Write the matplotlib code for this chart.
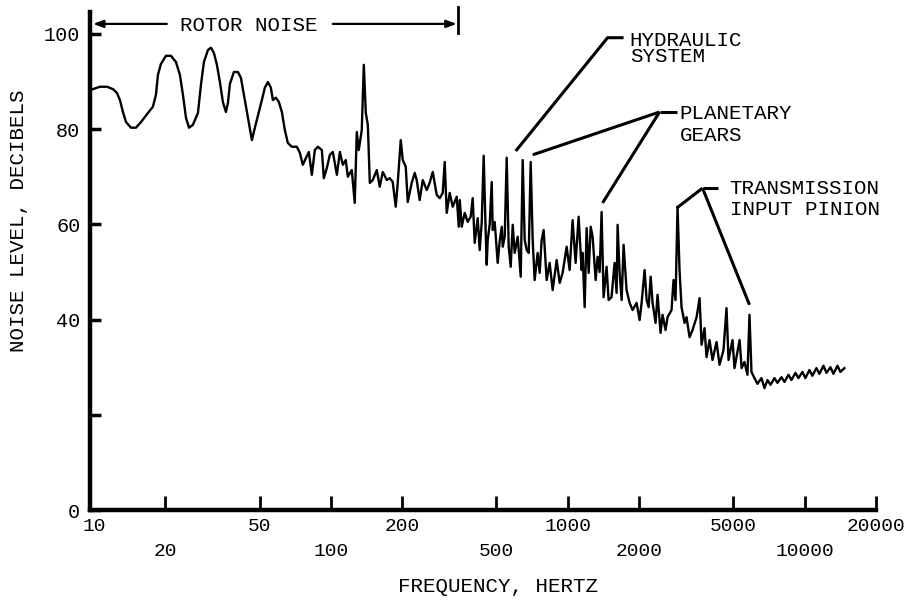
import matplotlib
matplotlib.use("Agg")
import matplotlib.pyplot as plt

# ---------------- data ----------------
freq_hz = [
    9.90, 10.60, 11.36, 12.02, 12.50, 12.87, 13.25, 13.65, 14.32, 15.04,
    15.80, 16.90, 17.73, 18.26, 18.62, 19.17, 20.13, 21.13, 22.18, 23.05,
    23.74, 24.45, 25.18, 26.15, 27.47, 28.28, 29.11, 30.26, 31.17, 32.08,
    33.03, 34.0, 35.0, 36.05, 36.76, 37.48, 38.96, 40.5, 41.7, 42.93,
    44.64, 46.4, 47.77, 49.67, 51.12, 52.64, 54.2, 55.8, 56.9, 58.58,
    60.3, 62.1, 63.93, 65.8, 68.4, 71.8, 74.0, 76.1, 78.4, 80.7,
    83.1, 85.55, 88.1, 91.6, 93.36, 96.1, 99.0, 101.9, 106.0, 109.1,
    112.3, 115.6, 117.9, 122.5, 126.1, 128.6, 131.1, 135.0, 137.7, 140.4,
    143.2, 146.0, 150.2, 156.2, 160.8, 165.6, 172.2, 177.1, 182.4, 187.8,
    191.5, 197.2, 201.1, 207.0, 211.1, 219.4, 225.9, 230.3, 237.0, 244.2,
    253.9, 261.2, 269.1, 279.7, 288.0, 296.5, 302.3, 308.3, 317.4, 326.8,
    339.8, 346.5, 350.0, 356.7, 367.2, 378.0, 389.2, 396.8, 404.6, 416.6,
    424.8, 433.1, 441.6, 450.3, 454.7, 459.2, 468.2, 477.4, 482.1, 491.4,
    501.1, 506.0, 516.0, 526.2, 531.4, 541.6, 552.2, 563.1, 574.2, 585.5,
    596.8, 614.6, 632.9, 645.1, 657.9, 670.9, 684.2, 697.2, 710.9, 724.6,
    746.1, 760.9, 775.6, 790.8, 814.3, 838.4, 863.2, 897.6, 924.2, 951.0,
    988.9, 1018, 1048, 1079, 1111, 1144, 1155, 1178, 1201, 1225,
    1249, 1273, 1311, 1337, 1363, 1389, 1416, 1458, 1487, 1530,
    1576, 1607, 1623, 1655, 1688, 1720, 1771, 1824, 1877, 1952,
    2010, 2049, 2110, 2152, 2194, 2238, 2280, 2347, 2393, 2464,
    2512, 2586, 2637, 2741, 2795, 2850, 2906, 2963, 3021, 3111,
    3172, 3266, 3362, 3497, 3600, 3671, 3777, 3852, 3966, 4082,
    4245, 4370, 4543, 4677, 4770, 4958, 5055, 5312, 5417, 5570,
    5734, 5847, 5962, 6138, 6318, 6569, 6765, 6966, 7173, 7454,
    7676, 7980, 8215, 8541, 8792, 9141, 9410, 9782, 10070, 10470,
    10780, 11210, 11540, 12000, 12360, 12850, 13220, 13750, 14150, 14710,
]
level_db = [
    88.4, 88.9, 88.9, 88.4, 87.6, 86.1, 83.6, 81.5, 80.3, 80.3,
    81.5, 83.4, 84.7, 87.2, 91.4, 93.7, 95.4, 95.4, 94.1, 91.4,
    87.2, 82.4, 80.3, 80.9, 83.4, 89.3, 94.1, 96.6, 97.1, 96.0,
    93.5, 89.9, 85.7, 83.6, 85.5, 89.5, 92.0, 92.0, 90.8, 87.2,
    82.4, 77.7, 80.3, 83.6, 86.1, 88.7, 89.9, 88.7, 86.1, 86.6,
    85.7, 83.6, 79.8, 77.1, 76.3, 76.3, 75.0, 72.5, 73.9, 75.2,
    70.4, 75.6, 76.3, 75.6, 69.7, 71.8, 74.6, 75.2, 70.4, 75.2,
    72.5, 73.5, 70.0, 71.4, 64.5, 79.4, 75.6, 79.8, 93.5, 83.4,
    80.9, 68.7, 69.3, 71.4, 67.9, 71.0, 69.3, 69.7, 68.9, 63.7,
    68.7, 77.7, 73.5, 72.1, 64.7, 68.7, 70.8, 69.3, 65.1, 69.3,
    67.2, 68.7, 71.0, 66.2, 65.5, 66.6, 73.1, 62.4, 66.6, 63.7,
    65.8, 59.5, 65.1, 59.5, 62.4, 60.5, 61.6, 65.5, 56.1, 61.3,
    54.6, 60.3, 74.4, 58.2, 51.5, 56.7, 60.0, 68.9, 58.8, 60.5,
    54.6, 51.9, 56.5, 59.5, 55.3, 57.4, 74.0, 55.3, 51.1, 59.9,
    54.0, 57.4, 49.0, 73.5, 56.7, 54.6, 54.0, 73.1, 56.7, 48.3,
    54.0, 49.8, 56.7, 58.8, 48.3, 51.9, 46.2, 52.5, 47.7, 49.8,
    55.3, 50.4, 60.9, 51.9, 61.6, 50.4, 54.0, 42.6, 59.2, 49.8,
    59.5, 57.4, 48.3, 53.2, 50.0, 62.6, 44.7, 51.1, 44.1, 44.7,
    51.9, 45.6, 59.9, 49.8, 44.1, 55.7, 46.2, 43.5, 42.0, 43.5,
    39.9, 43.5, 50.4, 44.1, 42.6, 49.0, 43.5, 39.3, 45.2, 37.2,
    41.0, 37.8, 40.5, 42.0, 48.3, 44.1, 63.7, 50.4, 42.6, 39.3,
    40.5, 36.3, 37.8, 40.5, 44.5, 34.7, 38.2, 32.1, 35.7, 31.5,
    35.3, 30.5, 33.6, 42.4, 31.5, 35.7, 29.8, 35.7, 29.8, 31.1,
    28.4, 41.0, 29.0, 27.7, 26.5, 27.7, 25.6, 27.3, 26.3, 27.7,
    26.7, 27.9, 26.9, 28.4, 27.3, 28.8, 27.7, 29.0, 27.7, 29.4,
    28.2, 29.8, 28.6, 30.3, 28.8, 30.0, 28.6, 30.3, 29.0, 29.8,
]

row1_ticks = [10, 50, 200, 1000, 5000, 20000]
row2_ticks = [20, 100, 500, 2000, 10000]
y_ticks = [0, 20, 40, 60, 80, 100]
y_tick_labels = ["0", "", "40", "60", "80", "100"]

# annotation anchors (frequency Hz, level dB)
hyd_knee = (1472, 99.2)
hyd_bar_end = (1720, 99.2)
hyd_target = (603, 75.4)
pla_knee = (2440, 83.6)
pla_bar_end = (2878, 83.6)
pla_targets = [(711, 74.6), (1402, 64.5)]
tra_knee = (3705, 67.6)
tra_bar_end = (4286, 67.6)
tra_targets = [(2878, 63.4), (5847, 43.1)]
rotor_end_hz = 340
rotor_level = 102.1

# ---------------- figure ----------------
plt.rcParams['font.family'] = ['Liberation Mono', 'DejaVu Sans Mono']
W, H = 906, 603
fig = plt.figure(figsize=(W / 100, H / 100), dpi=100)
ax = fig.add_axes([90 / W, (H - 510) / H, (876 - 90) / W, (510 - 12) / H])

ax.plot(freq_hz, level_db, color='black', lw=1.7, solid_joinstyle='round')

ax.set_xscale('log')
ax.set_xlim(9.62, 20000)
ax.set_ylim(0, 104.6)

ax.set_xticks(row1_ticks, [str(t) for t in row1_ticks])
ax.set_xticks(row2_ticks, [str(t) for t in row2_ticks], minor=True)
ax.set_yticks(y_ticks, y_tick_labels)

ax.tick_params(axis='x', which='both', direction='in', length=10, width=2,
               labelsize=14, color='black')
ax.tick_params(axis='x', which='major', pad=6)
ax.tick_params(axis='x', which='minor', pad=24)
ax.tick_params(axis='y', direction='in', length=8, width=2.5, pad=7,
               labelsize=14.5)
# the 10 Hz tick sits on the spine itself in the reference
ax.xaxis.get_major_ticks()[0].tick1line.set_visible(False)

for s in ['top', 'right']:
    ax.spines[s].set_visible(False)
for s in ['left', 'bottom']:
    ax.spines[s].set_linewidth(3.2)
    ax.spines[s].set_capstyle('projecting')

fig.text(19 / W, 1 - 221 / H, "NOISE LEVEL, DECIBELS", rotation=90,
         ha='center', va='center', fontsize=15)
fig.text(498 / W, 1 - 586 / H, "FREQUENCY, HERTZ", ha='center',
         va='center', fontsize=15)

lk = dict(color='black', lw=2.2, clip_on=False, solid_capstyle='butt')

# Hydraulic system
ax.plot([hyd_target[0], hyd_knee[0], hyd_bar_end[0]],
        [hyd_target[1], hyd_knee[1], hyd_bar_end[1]], **lk)
ax.text(1825, 100.7, "HYDRAULIC\nSYSTEM", fontsize=15, va='top', ha='left',
        linespacing=0.81)

# Planetary gears
ax.plot([pla_knee[0], pla_bar_end[0]], [pla_knee[1], pla_bar_end[1]], **lk)
for t in pla_targets:
    ax.plot([pla_knee[0], t[0]], [pla_knee[1], t[1]], **lk)
ax.text(2963, 85.2, "PLANETARY\nGEARS", fontsize=15, va='top', ha='left',
        linespacing=1.19)

# Transmission input pinion
ax.plot([tra_knee[0], tra_bar_end[0]], [tra_knee[1], tra_bar_end[1]], **lk)
for t in tra_targets:
    ax.plot([tra_knee[0], t[0]], [tra_knee[1], t[1]], **lk)
ax.text(4816, 69.6, "TRANSMISSION\nINPUT PINION", fontsize=15, va='top',
        ha='left', linespacing=1.14)

# Rotor noise band
ax.text(45.1, 100.6, "ROTOR NOISE", fontsize=15, va='baseline', ha='center')
arr = dict(arrowstyle='-|>,head_length=0.6,head_width=0.22', color='black',
           lw=1.6, shrinkA=0, shrinkB=0)
ax.annotate("", xy=(9.9, rotor_level), xytext=(20.3, rotor_level),
            arrowprops=arr, annotation_clip=False)
ax.annotate("", xy=(rotor_end_hz, rotor_level), xytext=(101.9, rotor_level),
            arrowprops=arr, annotation_clip=False)
ax.plot([343, 343], [100.2, 105.7], color='black', lw=2, clip_on=False)

fig.savefig("out.png", dpi=100)
